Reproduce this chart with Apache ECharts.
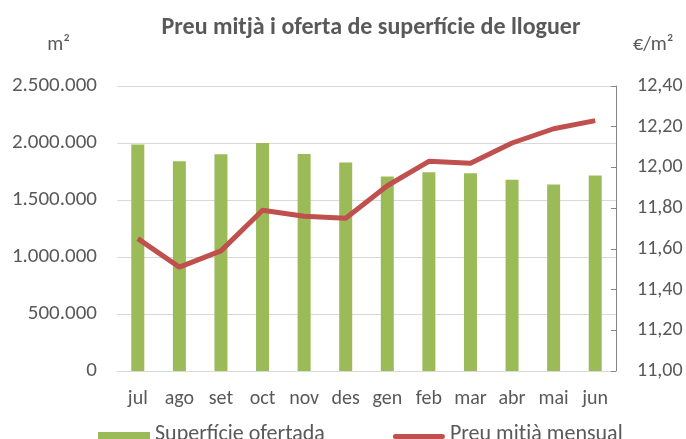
<!DOCTYPE html>
<html>
<head>
<meta charset="utf-8">
<script src="https://cdn.jsdelivr.net/npm/echarts@6/dist/echarts.min.js"></script>
<style>
  html, body { margin: 0; padding: 0; background: #fff; }
  #main { width: 686px; height: 439px; }
</style>
</head>
<body>
<div id="main"></div>
<script>
var months = ["jul", "ago", "set", "oct", "nov", "des", "gen", "feb", "mar", "abr", "mai", "jun"];
var superficie = [1986000, 1839000, 1901000, 2000000, 1904000, 1828000, 1707000, 1743000, 1734000, 1678000, 1637000, 1714000];
var preu = [11.65, 11.51, 11.59, 11.79, 11.76, 11.75, 11.91, 12.03, 12.02, 12.12, 12.19, 12.23];

var font = "Calibri, Carlito, 'Open Sans', 'Liberation Sans', sans-serif";
var grey = "#595959";

var chart = echarts.init(document.getElementById("main"));

function thousands(v) {
  return String(v).replace(/\B(?=(\d{3})+(?!\d))/g, ".");
}

// legend icons drawn inside a tall box so text and icon can be placed apart
var barIcon = "path://M0,0 M0,15 L52,15 L52,29 L0,29 Z M52,35";
var lineIcon = "path://M0,0 M2.5,17 L49.5,17 A2.5,2.5 0 0 1 49.5,22 L2.5,22 A2.5,2.5 0 0 1 2.5,17 Z M52,35";

var option = {
  animation: false,
  textStyle: { fontFamily: font },
  title: {
    text: "Preu mitjà i oferta de superfície de lloguer",
    left: 366,
    textAlign: "center",
    top: 11,
    textStyle: { fontSize: 24, fontWeight: "bold", color: grey, fontFamily: font }
  },
  legend: {
    top: 412,
    left: 93,
    itemGap: 68,
    itemWidth: 52,
    itemHeight: 35,
    textStyle: { fontSize: 22, color: grey, fontFamily: font },
    data: [
      { name: "Superfície ofertada", icon: barIcon },
      { name: "Preu mitjà mensual", icon: lineIcon }
    ]
  },
  grid: { left: 117, right: 70, top: 86, bottom: 68 },
  xAxis: {
    type: "category",
    data: months,
    axisLine: { lineStyle: { color: "#D9D9D9" } },
    axisTick: { show: false },
    axisLabel: { fontSize: 20, color: grey, margin: 18, interval: 0 }
  },
  yAxis: [
    {
      type: "value",
      min: 0,
      max: 2500000,
      interval: 500000,
      name: "m²",
      nameLocation: "end",
      nameGap: 31,
      nameTextStyle: { fontSize: 20, color: grey, align: "right", padding: [0, 47, 0, 0] },
      axisLine: { show: false },
      axisTick: { show: false },
      splitLine: { lineStyle: { color: "#D9D9D9" } },
      axisLabel: { fontSize: 21, color: grey, margin: 20, formatter: thousands }
    },
    {
      type: "value",
      min: 11,
      max: 12.4,
      interval: 0.2,
      name: "€/m²",
      nameLocation: "end",
      nameGap: 31,
      nameTextStyle: { fontSize: 20, color: grey, align: "left", padding: [0, 0, 0, 17] },
      axisLine: { show: true, lineStyle: { color: "#868686" } },
      axisTick: { show: true, inside: true, length: 5, lineStyle: { color: "#868686" } },
      splitLine: { show: false },
      axisLabel: {
        fontSize: 20, color: grey, margin: 21,
        formatter: function (v) { return v.toFixed(2).replace(".", ","); }
      }
    }
  ],
  series: [
    {
      name: "Superfície ofertada",
      type: "bar",
      data: superficie,
      barWidth: 13,
      itemStyle: { color: "#9BBB59" }
    },
    {
      name: "Preu mitjà mensual",
      type: "line",
      yAxisIndex: 1,
      data: preu,
      symbol: "none",
      lineStyle: { color: "#C0504D", width: 5 },
      itemStyle: { color: "#C0504D" }
    }
  ]
};
chart.setOption(option);
</script>
</body>
</html>
